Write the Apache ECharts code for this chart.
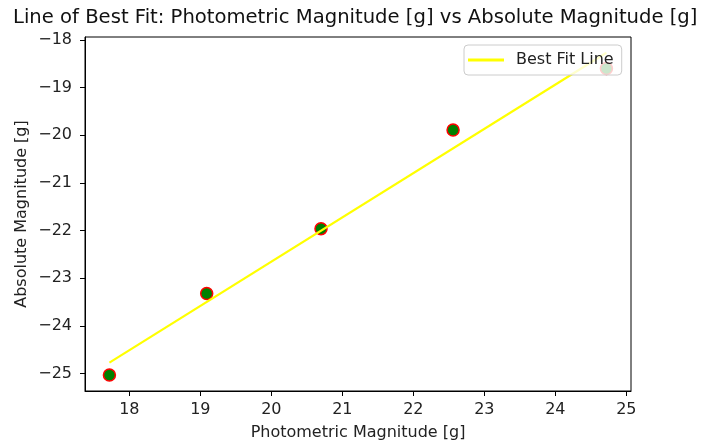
<!DOCTYPE html>
<html>
<head>
<meta charset="utf-8">
<script src="https://cdn.jsdelivr.net/npm/echarts@6/dist/echarts.min.js"></script>
<style>
  html, body { margin: 0; padding: 0; background: #fff; }
  #chart { width: 701px; height: 444px; }
</style>
</head>
<body>
<div id="chart"></div>
<script>
// observed points
const photometricMag = [17.72, 19.09, 20.70, 22.56, 24.72]
const absoluteMag = [-25.03, -23.32, -21.96, -19.89, -18.60]

// fitted line end points
const fitX = [17.72, 24.72]
const fitY = [-24.77, -18.27]

const xRange = [17.376, 25.066]
const yRange = [-25.365, -17.94]

const FONT = 'DejaVu Sans'
const minus = v => String(Math.round(v * 100) / 100).replace('-', '\u2212')

const chart = echarts.init(document.getElementById('chart'), null, { renderer: 'canvas' })

const axisCommon = {
  type: 'value',
  splitLine: { show: false },
  axisLine: { show: true, onZero: false, lineStyle: { color: '#000', width: 1 } },
  axisTick: { show: true, inside: false, length: 5, lineStyle: { color: '#000' } },
  nameLocation: 'middle',
  nameMoveOverlap: false,
  nameTextStyle: { fontFamily: FONT, fontSize: 16, color: '#222' },
}

chart.setOption({
  animation: false,
  backgroundColor: '#fff',
  title: {
    text: 'Line of Best Fit: Photometric Magnitude [g] vs Absolute Magnitude [g]',
    left: 13,
    top: 0,
    padding: [8, 0, 5, 0],
    textStyle: { fontFamily: FONT, fontSize: 19.6, fontWeight: 'normal', color: '#111' },
  },
  grid: {
    left: 85, right: 70, top: 37, bottom: 53,
    outerBoundsMode: 'none',
    show: true, borderColor: '#000', borderWidth: 1,
  },
  legend: {
    data: ['Best Fit Line'],
    left: 464,
    top: 45,
    padding: [7, 8, 7, 4],
    backgroundColor: 'rgba(255,255,255,0.8)',
    borderColor: '#ccc',
    borderWidth: 1,
    borderRadius: 4,
    icon: 'rect',
    itemWidth: 36,
    itemHeight: 3,
    textStyle: { fontFamily: FONT, fontSize: 16, color: '#222', padding: [0, 0, 0, 7] },
  },
  xAxis: {
    ...axisCommon,
    min: xRange[0],
    max: xRange[1],
    splitNumber: 8,
    name: 'Photometric Magnitude [g]',
    nameGap: 34,
    axisLabel: {
      fontFamily: FONT, fontSize: 16, color: '#222', margin: 11,
      showMinLabel: false, showMaxLabel: false,
      formatter: minus,
    },
  },
  yAxis: {
    ...axisCommon,
    min: yRange[0],
    max: yRange[1],
    splitNumber: 7,
    name: 'Absolute Magnitude [g]',
    nameGap: 55,
    axisLabel: {
      fontFamily: FONT, fontSize: 16, color: '#222', margin: 13,
      showMinLabel: false, showMaxLabel: false,
      formatter: minus,
    },
  },
  series: [
    {
      type: 'scatter',
      data: photometricMag.map((x, i) => [x, absoluteMag[i]]),
      symbolSize: 12,
      itemStyle: { color: '#008000', borderColor: '#ff0000', borderWidth: 1.5, opacity: 1 },
      z: 2,
    },
    {
      name: 'Best Fit Line',
      type: 'line',
      data: fitX.map((x, i) => [x, fitY[i]]),
      symbol: 'none',
      showSymbol: false,
      itemStyle: { color: '#ffff00' },
      lineStyle: { color: '#ffff00', width: 2.2 },
      z: 3,
    },
  ],
})
</script>
</body>
</html>
